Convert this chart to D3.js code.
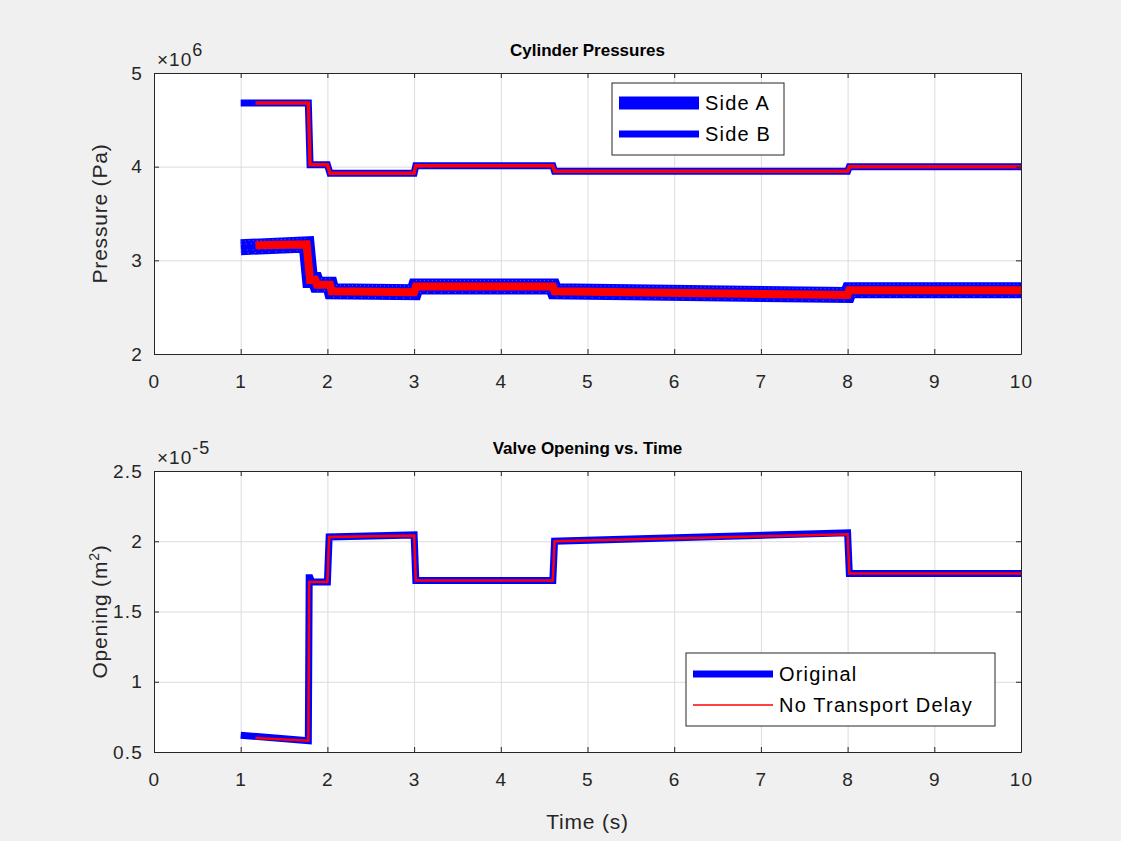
<!DOCTYPE html>
<html><head><meta charset="utf-8">
<script src="https://cdn.jsdelivr.net/npm/d3@7"></script>
<style>
body{margin:0;background:#f0f0f0;}
text{font-family:"Liberation Sans",Arial,Helvetica,sans-serif;}
</style>
</head><body>
<svg id="chart" width="1121" height="841"></svg>
<script>
// ---- data ----
const timeTicks = [0,1,2,3,4,5,6,7,8,9,10];
const pressureTicks = [2,3,4,5];
const openingTicks = [0.5,1,1.5,2,2.5];

// Cylinder pressure (x 1e6 Pa), upper trace
const upperTime     = [1, 1.78, 1.80, 2.00, 2.03, 3.00, 3.02, 4.60, 4.62, 8.00, 8.02, 10];
const upperOrig     = [4.68, 4.68, 4.02, 4.02, 3.93, 3.93, 4.01, 4.01, 3.95, 3.95, 4.00, 4.00];
const upperNDTime   = [1.17, 1.78, 1.80, 2.00, 2.03, 3.00, 3.02, 4.60, 4.62, 8.00, 8.02, 10];
const upperNoDelay  = [4.68, 4.68, 4.02, 4.02, 3.93, 3.93, 4.01, 4.01, 3.95, 3.95, 4.00, 4.00];

// Cylinder pressure (x 1e6 Pa), lower trace
const lowerTime     = [1, 1.76, 1.80, 1.86, 1.88, 2.03, 2.05, 3.00, 3.02, 4.60, 4.62, 8.00, 8.02, 10];
const lowerOrig     = [3.14, 3.17, 2.79, 2.79, 2.74, 2.74, 2.67, 2.66, 2.72, 2.72, 2.67, 2.63, 2.68, 2.68];
const lowerNDTime   = [1.17, 1.76, 1.80, 1.86, 1.88, 2.03, 2.05, 3.00, 3.02, 4.60, 4.62, 8.00, 8.02, 10];
const lowerNoDelay  = [3.16, 3.17, 2.79, 2.79, 2.74, 2.74, 2.67, 2.66, 2.72, 2.72, 2.67, 2.63, 2.68, 2.68];

// Valve opening (x 1e-5 m^2)
const openTime      = [1, 1.78, 1.79, 1.80, 1.82, 2.00, 2.02, 3.00, 3.02, 4.60, 4.62, 8.00, 8.02, 10];
const openOrig      = [0.62, 0.58, 1.74, 1.74, 1.71, 1.71, 2.03, 2.045, 1.72, 1.72, 2.00, 2.06, 1.77, 1.77];
const openNDTime    = [1.17, 1.78, 1.79, 1.80, 1.82, 2.00, 2.02, 3.00, 3.02, 4.60, 4.62, 8.00, 8.02, 10];
const openNoDelay   = [0.60, 0.58, 1.71, 1.71, 1.71, 1.71, 2.03, 2.04, 1.72, 1.72, 2.00, 2.05, 1.77, 1.77];

// ---- layout ----
const svg = d3.select("#chart");
const L = 154, R = 1021;
const BLUE = "#0000ff", RED = "#ff0000", INK = "#262626";
const TICK_FS = 19, TICK_LS = 1.2;

const x = d3.scaleLinear().domain([0,10]).range([L,R]);

function panel(top, bottom, yDomain, yTicks, title, ylabel, expSup, tickFmt){
  const y = d3.scaleLinear().domain(yDomain).range([bottom, top]);
  const g = svg.append("g");
  g.append("rect").attr("x",L).attr("y",top).attr("width",R-L).attr("height",bottom-top).attr("fill","#fff");
  // grid
  g.append("g").attr("transform",`translate(0,${bottom})`)
    .call(d3.axisBottom(x).tickValues(timeTicks).tickSize(-(bottom-top)).tickFormat(""))
    .call(s=>{s.select(".domain").remove(); s.selectAll("line").attr("stroke","#dcdcdc");});
  g.append("g").attr("transform",`translate(${L},0)`)
    .call(d3.axisLeft(y).tickValues(yTicks).tickSize(-(R-L)).tickFormat(""))
    .call(s=>{s.select(".domain").remove(); s.selectAll("line").attr("stroke","#dcdcdc");});
  const clipId = "clip"+top;
  svg.append("clipPath").attr("id",clipId).append("rect")
    .attr("x",L).attr("y",top).attr("width",R-L).attr("height",bottom-top);
  const data = g.append("g").attr("clip-path",`url(#${clipId})`);
  return {y, g, data, top, bottom, finish(){
    const st = s=>{s.select(".domain").attr("stroke",INK); s.selectAll("line").attr("stroke",INK);
      s.selectAll("text").attr("fill",INK).attr("font-size",TICK_FS).attr("letter-spacing",TICK_LS)
        .attr("font-family","Liberation Sans, Arial, sans-serif");};
    g.append("g").attr("transform",`translate(0,${bottom})`)
      .call(d3.axisBottom(x).tickValues(timeTicks).tickSize(-5).tickSizeOuter(0).tickPadding(21).tickFormat(d3.format("d"))).call(st);
    g.append("g").attr("transform",`translate(0,${top})`)
      .call(d3.axisTop(x).tickValues(timeTicks).tickSize(-5).tickSizeOuter(0).tickFormat("")).call(st);
    g.append("g").attr("transform",`translate(${L},0)`)
      .call(d3.axisLeft(y).tickValues(yTicks).tickSize(-5).tickSizeOuter(0).tickPadding(11).tickFormat(tickFmt)).call(st);
    g.append("g").attr("transform",`translate(${R},0)`)
      .call(d3.axisRight(y).tickValues(yTicks).tickSize(-5).tickSizeOuter(0).tickFormat("")).call(st);
    // title
    g.append("text").attr("x",(L+R)/2).attr("y",top-17).attr("text-anchor","middle")
      .attr("font-size",17).attr("font-weight","bold").attr("fill","#000").text(title);
    // y label
    const yl = g.append("text").attr("transform",`translate(107,${(top+bottom)/2}) rotate(-90)`)
      .attr("text-anchor","middle").attr("font-size",21).attr("letter-spacing",0.8).attr("fill",INK);
    ylabel(yl);
    // exponent
    const ex = g.append("text").attr("x",157).attr("y",top-7).attr("font-size",19).attr("letter-spacing",1).attr("fill",INK);
    ex.append("tspan").text("\u00d710");
    ex.append("tspan").attr("dy",-10).attr("font-size",18).text(expSup);
  }};
}

function pts(t,v){ return t.map((d,i)=>[d,v[i]]); }

// ---- top panel ----
const p1 = panel(73, 354, [2,5], pressureTicks, "Cylinder Pressures",
  t=>t.text("Pressure (Pa)"), "6", d3.format("d"));
const line1 = d3.line().x(d=>x(d[0])).y(d=>p1.y(d[1]));
p1.data.append("path").attr("d",line1(pts(lowerTime,lowerOrig))).attr("fill","none")
  .attr("stroke",BLUE).attr("stroke-width",16).attr("stroke-linejoin","miter");
p1.data.append("path").attr("d",line1(pts(upperTime,upperOrig))).attr("fill","none")
  .attr("stroke",BLUE).attr("stroke-width",7).attr("stroke-linejoin","miter");
// speckle texture on the lower original trace
[-6,-3,3,6].forEach((o,i)=>{
  p1.data.append("path").attr("d",line1(pts(lowerTime,lowerOrig))).attr("fill","none")
    .attr("transform",`translate(0,${o})`)
    .attr("stroke","#fff").attr("stroke-opacity",0.35).attr("stroke-width",1)
    .attr("stroke-dasharray",`1,${3+i}`);
});
p1.data.append("path").attr("d",line1(pts(lowerNDTime,lowerNoDelay))).attr("fill","none")
  .attr("stroke",RED).attr("stroke-width",8).attr("stroke-linejoin","miter");
p1.data.append("path").attr("d",line1(pts(upperNDTime,upperNoDelay))).attr("fill","none")
  .attr("stroke",RED).attr("stroke-width",3.5).attr("stroke-linejoin","miter");
p1.finish();

// legend top
{
  const lg = svg.append("g");
  lg.append("rect").attr("x",612).attr("y",83).attr("width",172).attr("height",72)
    .attr("fill","#fff").attr("stroke",INK).attr("stroke-width",1);
  const items = [["Side A",13,103],["Side B",7,134]];
  items.forEach(([label,w,yy])=>{
    lg.append("line").attr("x1",619).attr("x2",699).attr("y1",yy).attr("y2",yy)
      .attr("stroke",BLUE).attr("stroke-width",w);
    lg.append("text").attr("x",705).attr("y",yy+7).attr("font-size",20).attr("letter-spacing",1.2)
      .attr("fill","#000").text(label);
  });
}

// ---- bottom panel ----
const p2 = panel(471, 752, [0.5,2.5], openingTicks, "Valve Opening vs. Time",
  t=>{t.append("tspan").text("Opening (m"); t.append("tspan").attr("dy",-8).attr("font-size",14).text("2");
      t.append("tspan").attr("dy",8).text(")");}, "-5", d3.format("~g"));
const line2 = d3.line().x(d=>x(d[0])).y(d=>p2.y(d[1]));
p2.data.append("path").attr("d",line2(pts(openTime,openOrig))).attr("fill","none")
  .attr("stroke",BLUE).attr("stroke-width",7).attr("stroke-linejoin","miter");
p2.data.append("path").attr("d",line2(pts(openNDTime,openNoDelay))).attr("fill","none")
  .attr("stroke",RED).attr("stroke-width",2.5).attr("stroke-linejoin","miter");
p2.finish();

// x label
svg.append("text").attr("x",(L+R)/2).attr("y",829).attr("text-anchor","middle")
  .attr("font-size",21).attr("letter-spacing",0.8).attr("fill",INK).text("Time (s)");

// legend bottom
{
  const lg = svg.append("g");
  lg.append("rect").attr("x",686).attr("y",653).attr("width",309).attr("height",73)
    .attr("fill","#fff").attr("stroke",INK).attr("stroke-width",1);
  const items = [["Original",BLUE,7,674],["No Transport Delay",RED,1.5,705]];
  items.forEach(([label,c,w,yy])=>{
    lg.append("line").attr("x1",693).attr("x2",773).attr("y1",yy).attr("y2",yy)
      .attr("stroke",c).attr("stroke-width",w);
    lg.append("text").attr("x",779).attr("y",yy+7).attr("font-size",20).attr("letter-spacing",1.2)
      .attr("fill","#000").text(label);
  });
}
</script>
</body></html>
